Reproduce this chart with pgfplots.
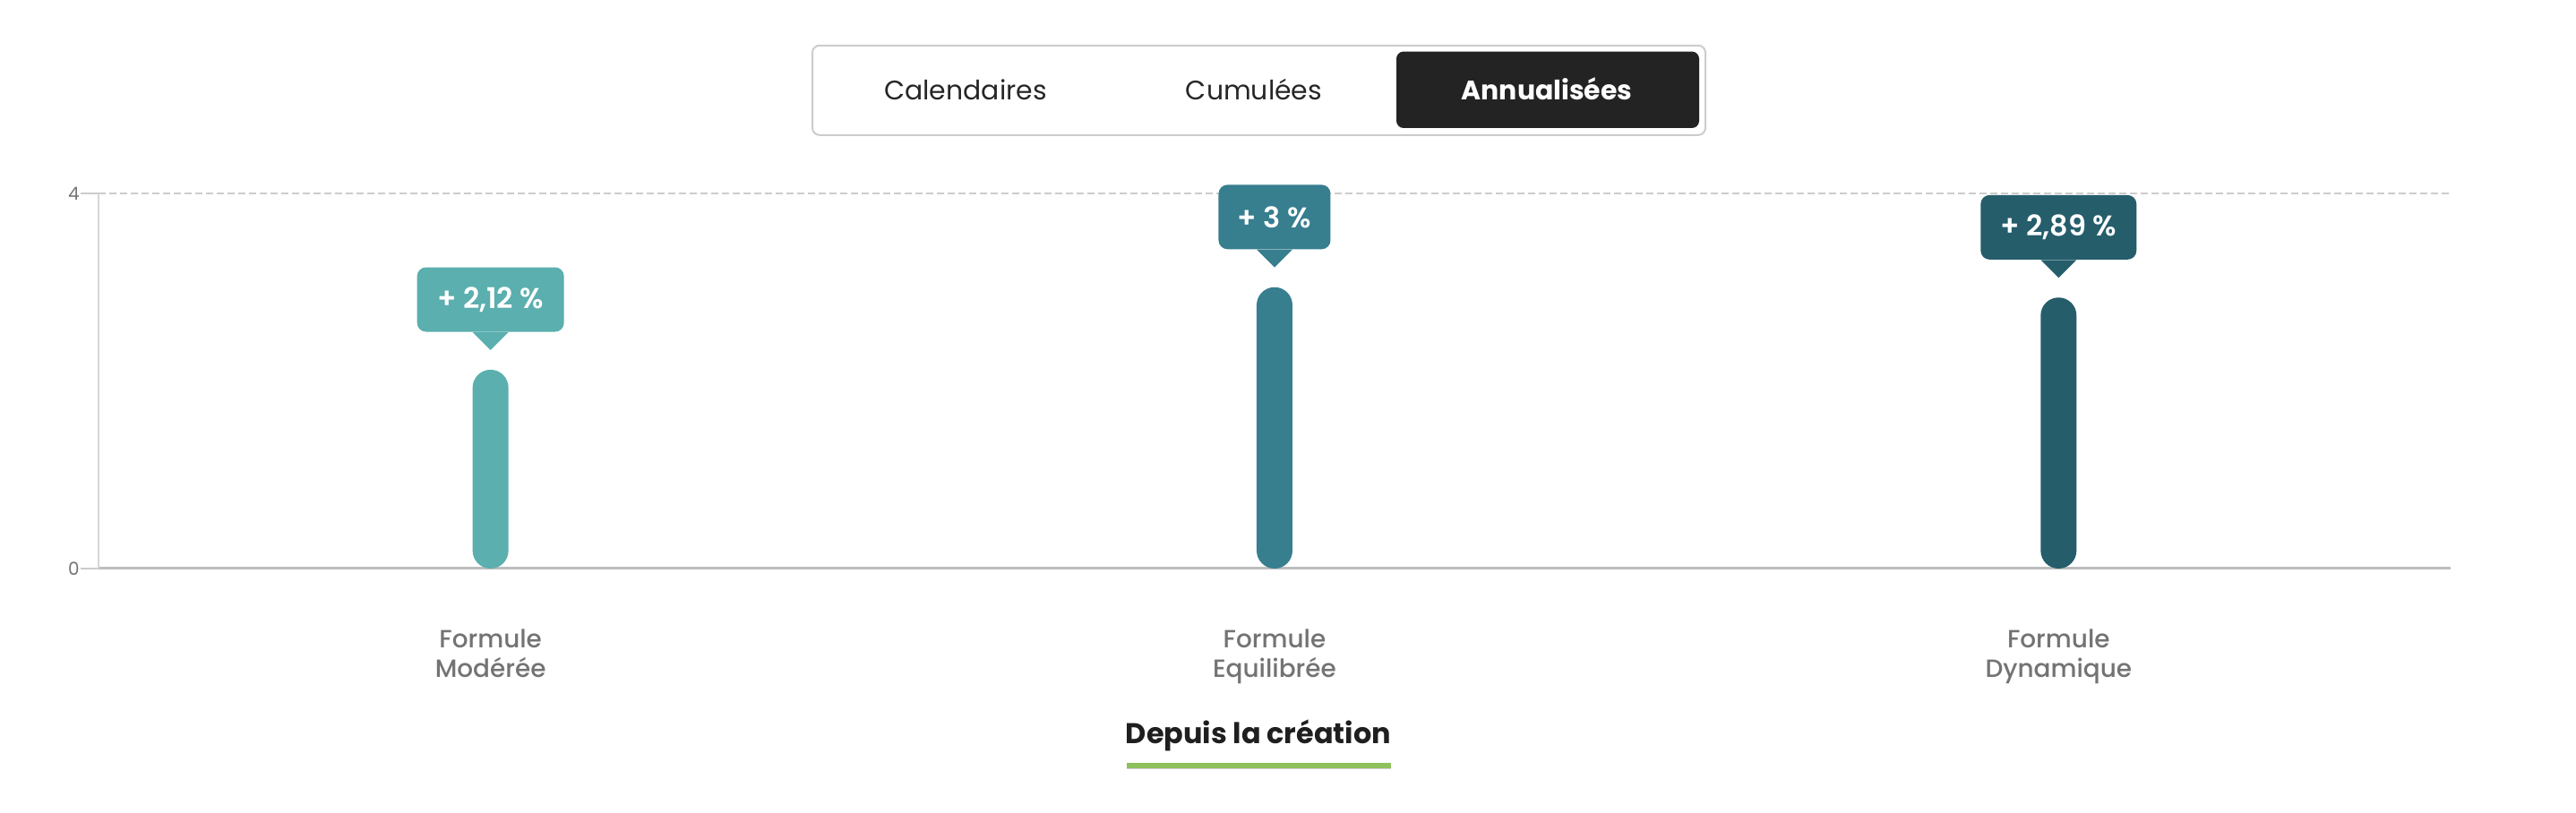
\documentclass[border=0pt]{standalone}
\usepackage{pgfplots}
\pgfplotsset{compat=1.18}
\usepackage{fontspec}
\setmainfont{Poppins}
\newfontfamily\medfont{Poppins Medium}
\newfontfamily\semifont{Poppins SemiBold}
\definecolor{cA}{HTML}{5BAFAE}
\definecolor{cB}{HTML}{377E8F}
\definecolor{cC}{HTML}{255D6B}
\definecolor{tabdark}{HTML}{232323}
\definecolor{lblgrey}{HTML}{737373}
\definecolor{axgrey}{HTML}{BDBDBD}
\definecolor{gridgrey}{HTML}{CCCCCC}
\definecolor{greenbar}{HTML}{8EC15B}
\begin{document}
\begin{tikzpicture}
\useasboundingbox (0,0) rectangle (1438bp,454bp);
% tabs
\draw[gridgrey, line width=1bp, rounded corners=4bp] (453.5bp,378.6bp) rectangle (952bp,428.6bp);
\fill[tabdark, rounded corners=4bp] (779.5bp,382.5bp) rectangle (948.5bp,425.2bp);
\node[anchor=base, font=\fontsize{15}{18}\selectfont, text=black!85] at (539bp,398bp) {Calendaires};
\node[anchor=base, font=\fontsize{15}{18}\selectfont, text=black!85] at (700bp,398bp) {Cumulées};
\node[anchor=base, font=\fontsize{15}{18}\selectfont\bfseries, text=white] at (863.5bp,398bp) {Annualisées};
\begin{axis}[
  at={(55bp,136.5bp)}, anchor=south west,
  scale only axis, width=1313bp, height=209.5bp,
  xmin=-0.5, xmax=2.5, ymin=0, ymax=4,
  axis x line=bottom, axis y line=left,
  axis line style={-},
  x axis line style={axgrey, line width=1.5bp},
  y axis line style={gridgrey!80, line width=0.75bp},
  ytick={0,4}, xtick={0,1,2},
  xticklabels={{Formule\\Modérée},{Formule\\Equilibrée},{Formule\\Dynamique}},
  xticklabel style={align=center, font=\fontsize{14}{16.5}\selectfont\medfont, text=lblgrey, yshift=-20.5bp},
  major x tick style={draw=none},
  ytick style={gridgrey, line width=0.75bp},
  tick align=outside, major tick length=10bp,
  yticklabel style={font=\fontsize{10}{11}\selectfont, text=lblgrey, inner sep=0.5bp},
  /pgf/number format/assume math mode=true,
  ymajorgrids, grid style={gridgrey, line width=1bp, dash pattern=on 4bp off 2bp},
  clip=false,
]
\addplot[ybar, bar width=20bp, fill=cA, draw=none, rounded corners=10bp] coordinates {(0,2.12)};
\addplot[ybar, bar width=20bp, fill=cB, draw=none, rounded corners=10bp] coordinates {(1,3)};
\addplot[ybar, bar width=20bp, fill=cC, draw=none, rounded corners=10bp] coordinates {(2,2.89)};
% tooltips
\fill[cA] ([yshift=11bp]axis cs:0,2.12) -- ++(-10bp,10bp) -- ++(20bp,0bp) -- cycle;
\node[anchor=south, fill=cA, rounded corners=5bp, text=white, minimum height=36bp, minimum width=82bp, inner xsep=0pt, font=\fontsize{16}{18}\selectfont\semifont] at ([yshift=21bp]axis cs:0,2.12) {+ 2,12 \%};
\fill[cB] ([yshift=11bp]axis cs:1,3) -- ++(-10bp,10bp) -- ++(20bp,0bp) -- cycle;
\node[anchor=south, fill=cB, rounded corners=5bp, text=white, minimum height=36bp, minimum width=62.5bp, inner xsep=0pt, font=\fontsize{16}{18}\selectfont\semifont] at ([yshift=21bp]axis cs:1,3) {+ 3 \%};
\fill[cC] ([yshift=11bp]axis cs:2,2.89) -- ++(-10bp,10bp) -- ++(20bp,0bp) -- cycle;
\node[anchor=south, fill=cC, rounded corners=5bp, text=white, minimum height=36bp, minimum width=87bp, inner xsep=0pt, font=\fontsize{16}{18}\selectfont\semifont] at ([yshift=21bp]axis cs:2,2.89) {+ 2,89 \%};
\end{axis}
% bottom title
\node[anchor=base, font=\fontsize{16}{18}\selectfont\bfseries, text=black!88] at (702.5bp,39bp) {Depuis la création};
\fill[greenbar] (629bp,25bp) rectangle (776.5bp,28bp);
\fill[gridgrey] (629bp,24.3bp) rectangle (776.5bp,25bp);
\end{tikzpicture}
\end{document}
